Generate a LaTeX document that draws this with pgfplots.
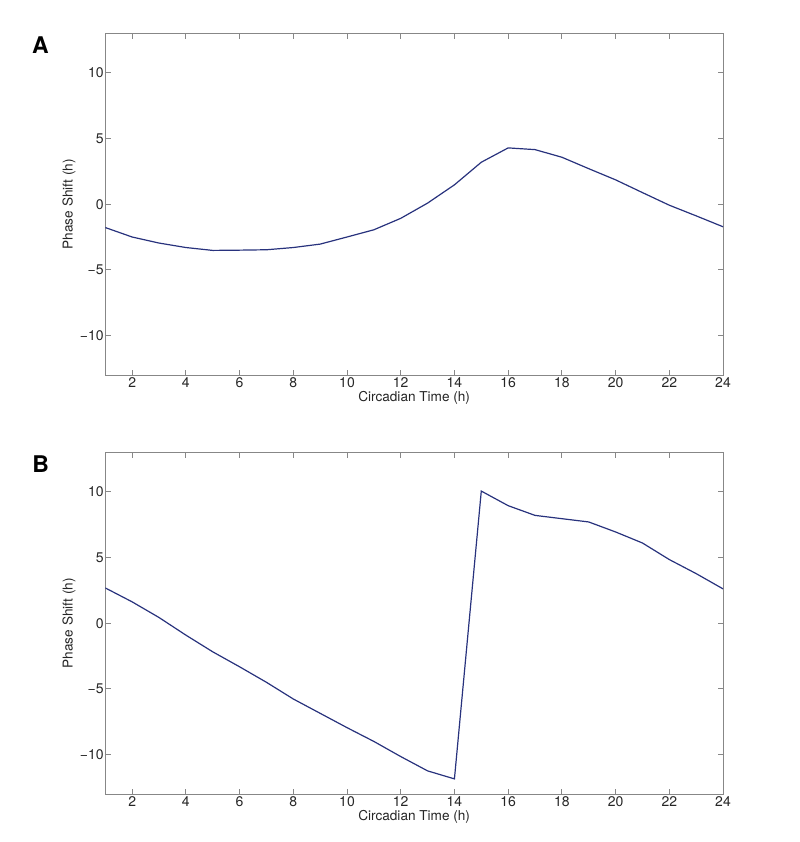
\documentclass[border=0pt]{standalone}
\usepackage{pgfplots}
\pgfplotsset{compat=1.18}
\usepackage{fontspec}
\setmainfont{TeX Gyre Heros}
\definecolor{linenavy}{RGB}{40,50,125}
\definecolor{axgray}{RGB}{135,135,135}
\pgfplotstableread{
x y
1 -1.78
2 -2.50
3 -2.96
4 -3.30
5 -3.52
6 -3.50
7 -3.47
8 -3.30
9 -3.04
10 -2.50
11 -1.95
12 -1.08
13 0.08
14 1.47
15 3.19
16 4.28
17 4.15
18 3.57
19 2.70
20 1.85
21 0.88
22 -0.08
23 -0.89
24 -1.72
}\dataA
\pgfplotstableread{
x y
1 2.68
2 1.62
3 0.43
4 -0.91
5 -2.18
6 -3.32
7 -4.50
8 -5.77
9 -6.86
10 -7.95
11 -9.00
12 -10.15
13 -11.24
14 -11.85
15 10.05
16 8.94
17 8.20
18 7.95
19 7.70
20 6.94
21 6.10
22 4.84
23 3.77
24 2.61
}\dataB
\pgfplotsset{
  panel/.style={
    scale only axis,
    width=617.7bp, height=341.7bp,
    anchor=north west,
    xmin=1, xmax=24, ymin=-13, ymax=13,
    xtick={2,4,...,24},
    ytick={-10,-5,0,5,10},
    yticklabels={−10,−5,0,5,10},
    xticklabels={2,4,6,8,10,12,14,16,18,20,22,24},
    tick align=inside,
    major tick length=5.5bp,
    axis line style={axgray, line width=0.8bp},
    every tick/.style={axgray, line width=0.8bp},
    tick label style={font=\fontsize{14bp}{16bp}\selectfont, text=black!85},
    yticklabel style={inner sep=1.5bp},
    xticklabel style={inner sep=2.5bp},
    label style={font=\fontsize{13.6bp}{16bp}\selectfont, text=black!85},
    xlabel={Circadian Time (h)},
    ylabel={Phase Shift (h)},
    xlabel style={at={(axis description cs:0.5,-0.0673)}, anchor=center},
    ylabel style={at={(axis description cs:-0.0588,0.5)}, anchor=center, rotate=0},
  }
}
\begin{document}
\begin{tikzpicture}
\path[use as bounding box] (0,0) rectangle (800bp,-842bp);
\node[font=\fontsize{23bp}{26bp}\selectfont\bfseries] at (40.5bp,-45.3bp) {A};
\node[font=\fontsize{23bp}{26bp}\selectfont\bfseries] at (40.8bp,-464.2bp) {B};
\begin{axis}[panel, at={(105.3bp,-33.3bp)}]
\addplot[linenavy, line width=1.2bp] table[x=x,y=y] {\dataA};
\end{axis}
\begin{axis}[panel, at={(105.3bp,-452.3bp)}]
\addplot[linenavy, line width=1.2bp] table[x=x,y=y] {\dataB};
\end{axis}
\end{tikzpicture}
\end{document}
